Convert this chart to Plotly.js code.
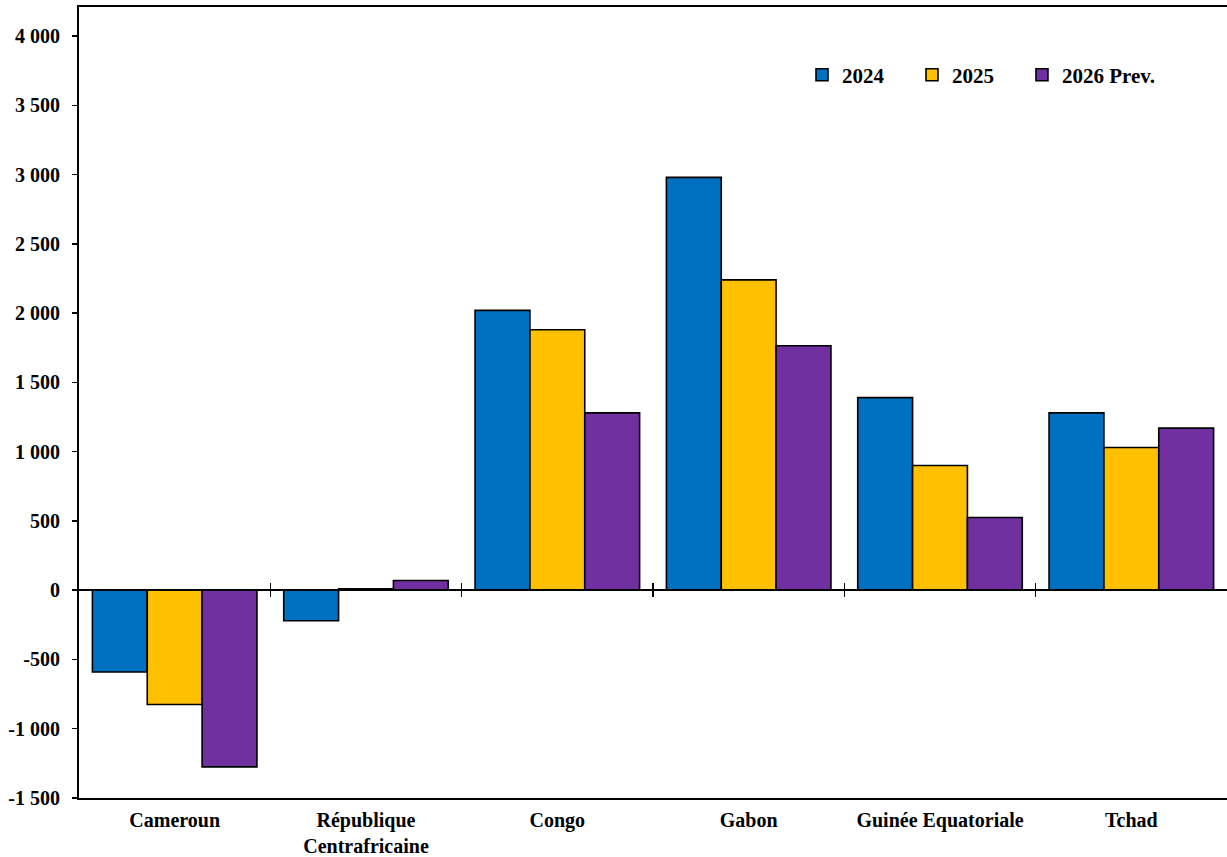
<!DOCTYPE html>
<html>
<head>
<meta charset="utf-8">
<script src="https://cdn.plot.ly/plotly-3.0.1.min.js"></script>
<style>html,body{margin:0;padding:0;background:#fff;}#chart{width:1227px;height:857px;}</style>
</head>
<body>
<div id="chart"></div>
<script>
const categories = ["Cameroun", "République<br>Centrafricaine", "Congo", "Gabon", "Guinée Equatoriale", "Tchad"];
const values2024 = [-590, -220, 2020, 2980, 1390, 1280];
const values2025 = [-825, 10, 1880, 2240, 900, 1030];
const values2026 = [-1275, 70, 1280, 1765, 525, 1170];
const seriesNames = ["2024", "2025", "2026 Prev."];
const seriesColors = ["#0070C0", "#FFC000", "#7030A0"];
const yTickVals = [-1500, -1000, -500, 0, 500, 1000, 1500, 2000, 2500, 3000, 3500, 4000];
const yTickText = ["-1 500", "-1 000", "-500", "0", "500", "1 000", "1 500", "2 000", "2 500", "3 000", "3 500", "4 000"];
const boundaryTicks = [0.5, 1.5, 2.5, 3.5, 4.5];

const yMin = -1500, yMax = 4210;
const zeroPos = (0 - yMin) / (yMax - yMin);
const FONT = "Liberation Serif, Times New Roman, serif";
const legendIds = ["legend", "legend2", "legend3"];
const legendX = [0.6298, 0.7256, 0.8214];

const allValues = [values2024, values2025, values2026];
const traces = allValues.map((v, i) => ({
  type: "bar",
  name: seriesNames[i],
  x: categories,
  y: v,
  legend: legendIds[i],
  marker: {color: seriesColors[i], line: {color: "#000", width: 1.6}},
  hoverinfo: "skip"
}));

const boundaryAxis = (ticks) => ({
  overlaying: "x",
  anchor: "free",
  position: zeroPos,
  range: [-0.5, 5.5],
  tickmode: "array",
  tickvals: boundaryTicks,
  ticks: ticks,
  ticklen: 6,
  tickwidth: 1.5,
  tickcolor: "#000",
  showticklabels: false,
  showgrid: false,
  zeroline: false,
  showline: true,
  linecolor: "#000",
  linewidth: 2
});

const legendStyle = (x) => ({
  orientation: "h",
  x: x, y: 0.914, xanchor: "left", yanchor: "middle",
  font: {family: FONT, size: 21, color: "#000", weight: "bold"},
  bgcolor: "rgba(0,0,0,0)",
  itemclick: false
});

const layout = {
  width: 1227,
  height: 857,
  margin: {l: 79, r: 0, t: 7, b: 59, autoexpand: false},
  paper_bgcolor: "#fff",
  plot_bgcolor: "#fff",
  barmode: "group",
  bargap: 0.14,
  bargroupgap: 0,
  showlegend: true,
  font: {family: FONT, color: "#000"},
  legend: legendStyle(legendX[0]),
  legend2: legendStyle(legendX[1]),
  legend3: legendStyle(legendX[2]),
  xaxis: {
    type: "category",
    range: [-0.5, 5.5],
    showline: true, mirror: true, linecolor: "#000", linewidth: 2,
    ticks: "", showgrid: false, zeroline: false,
    tickfont: {family: FONT, size: 20, color: "#000", weight: "bold"},
    ticklabelstandoff: 3
  },
  xaxis2: boundaryAxis("outside"),
  xaxis3: boundaryAxis("inside"),
  yaxis: {
    range: [yMin, yMax],
    tickmode: "array",
    tickvals: yTickVals,
    ticktext: yTickText,
    ticks: "outside", ticklen: 5, tickwidth: 1.5, tickcolor: "#000",
    showline: true, mirror: true, linecolor: "#000", linewidth: 2,
    showgrid: false, zeroline: false,
    tickfont: {family: FONT, size: 20, color: "#000", weight: "bold"},
    ticklabelstandoff: 8
  }
};

// invisible anchor traces so the overlay axes are drawn
traces.push({type: "scatter", x: [0], y: [0], xaxis: "x2", yaxis: "y", mode: "markers", marker: {opacity: 0}, showlegend: false, hoverinfo: "skip"});
traces.push({type: "scatter", x: [0], y: [0], xaxis: "x3", yaxis: "y", mode: "markers", marker: {opacity: 0}, showlegend: false, hoverinfo: "skip"});

Plotly.newPlot("chart", traces, layout, {staticPlot: true, displayModeBar: false});
</script>
</body>
</html>
